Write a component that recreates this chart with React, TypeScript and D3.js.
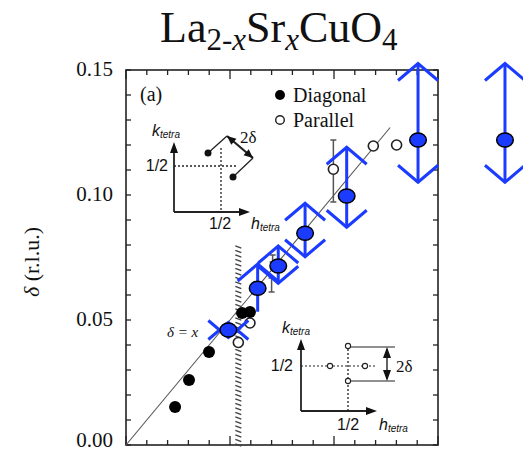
import React from "react";
import * as d3 from "d3";

// Incommensurability delta versus hole concentration x in La2-xSrxCuO4
const diagX = [0.0236, 0.0303, 0.0399, 0.0492, 0.0558, 0.0596, 0.0633, 0.0732, 0.0861, 0.1061];
const diagD = [0.0152, 0.026, 0.0372, 0.046, 0.0528, 0.0532, 0.0627, 0.0716, 0.0847, 0.0996];

const parX = [0.0540, 0.0596, 0.0997, 0.1189, 0.1301];
const parD = [0.0410, 0.0488, 0.1103, 0.1196, 0.12];

// vertical error bars (x, low, high) on the measured points
const errX = [0.0997, 0.07, 0.0705];
const errLo = [0.0972, 0.0612, 0.0732];
const errHi = [0.122, 0.0668, 0.076];

// overlay: estimates with their uncertainty ranges
const blueX = [0.0492, 0.0633, 0.0732, 0.0861, 0.1061, 0.1404, 0.1822];
const blueD = [0.046, 0.0627, 0.0716, 0.0847, 0.0996, 0.122, 0.122];
const blueUp = [0.003, 0.0097, 0.008, 0.012, 0.0195, 0.0306, 0.0306];
const blueDown = [0.003, 0.0094, 0.0069, 0.0094, 0.0125, 0.0169, 0.0169];
const blueHeadDown = [true, false, true, true, true, true, true];

const yTicks = [0, 0.05, 0.1, 0.15];
const yTickLabels = ["0.00", "0.05", "0.10", "0.15"];

const BLUE = "#1b3cff";
const SERIF = "'Liberation Serif', 'Times New Roman', serif";
const SANS = "'Liberation Sans', Arial, sans-serif";

export default function App() {
  const W = 523;
  const H = 452;
  const x = d3.scaleLinear().domain([0, 0.15]).range([126, 438]);
  const y = d3.scaleLinear().domain([0, 0.15]).range([445, 70]);

  const minor = d3.range(0, 0.1501, 0.01);
  const isMajor = (v: number) => Math.abs(v / 0.05 - Math.round(v / 0.05)) < 1e-6;

  const hatchYs = d3.range(0, 0.0801, 0.0018);
  const hatchX = x(0.054);

  const arrowHead = (tx: number, ty: number, dir: "up" | "down" | "right", len = 11, half = 4) => {
    if (dir === "up") return `M${tx},${ty}L${tx - half},${ty + len}L${tx + half},${ty + len}Z`;
    if (dir === "down") return `M${tx},${ty}L${tx - half},${ty - len}L${tx + half},${ty - len}Z`;
    return `M${tx},${ty}L${tx - len},${ty - half}L${tx - len},${ty + half}Z`;
  };

  // double arrow between two points with heads at both ends
  const dblArrow = (x1: number, y1: number, x2: number, y2: number, len = 10, half = 4) => {
    const a = Math.atan2(y2 - y1, x2 - x1);
    const head = (tx: number, ty: number, ang: number) => {
      const bx = tx - len * Math.cos(ang);
      const by = ty - len * Math.sin(ang);
      const px = -Math.sin(ang) * half;
      const py = Math.cos(ang) * half;
      return `M${tx},${ty}L${bx + px},${by + py}L${bx - px},${by - py}Z`;
    };
    return head(x2, y2, a) + head(x1, y1, a + Math.PI);
  };

  const armDx = 20;
  const armDy = 17;

  return (
    <svg width={W} height={H} style={{ position: "absolute", left: 0, top: 0, background: "#fff" }}>
      {/* title */}
      <text x={160} y={42} fontFamily={SERIF} fontSize={44} fill="#111">
        La
        <tspan fontSize={31} dy={8}>2-</tspan>
        <tspan fontSize={31} fontStyle="italic">x</tspan>
        <tspan dy={-8}>Sr</tspan>
        <tspan fontSize={31} fontStyle="italic" dy={8}>x</tspan>
        <tspan dy={-8}>CuO</tspan>
        <tspan fontSize={31} dy={8}>4</tspan>
      </text>

      {/* y-axis title */}
      <text
        transform="translate(39,262) rotate(-90)"
        textAnchor="middle"
        fontFamily={SERIF}
        fontSize={22}
        fill="#111"
      >
        <tspan fontStyle="italic">δ</tspan> (r.l.u.)
      </text>

      {/* y tick labels */}
      {yTicks.map((t, i) => (
        <text key={t} x={113} y={y(t) + (t === 0 ? 2 : 6)} textAnchor="end" fontFamily={SERIF} fontSize={21} fill="#111">
          {yTickLabels[i]}
        </text>
      ))}

      {/* frame */}
      <rect x={x(0)} y={y(0.15)} width={x(0.15) - x(0)} height={y(0) - y(0.15)} fill="none" stroke="#222" strokeWidth={1.6} />

      {/* ticks on all four sides, pointing inward */}
      {minor.map((v) => {
        const L = isMajor(v) ? 9 : 5;
        return (
          <g key={"t" + v} stroke="#222" strokeWidth={1.3}>
            <line x1={x(v)} x2={x(v)} y1={y(0)} y2={y(0) - L} />
            <line x1={x(v)} x2={x(v)} y1={y(0.15)} y2={y(0.15) + L} />
            <line x1={x(0)} x2={x(0) + 5} y1={y(v)} y2={y(v)} />
            <line x1={x(0.15)} x2={x(0.15) - 5} y1={y(v)} y2={y(v)} />
          </g>
        );
      })}

      {/* hatched boundary */}
      {hatchYs.map((v) => (
        <line key={"h" + v} x1={hatchX - 3} y1={y(v) - 1.2} x2={hatchX + 3} y2={y(v) + 1.2} stroke="#444" strokeWidth={1.4} />
      ))}

      {/* delta = x reference line */}
      <line x1={x(0)} y1={y(0)} x2={x(0.127)} y2={y(0.127)} stroke="#555" strokeWidth={1.1} />
      <text x={167} y={337} fontFamily={SERIF} fontSize={15} fontStyle="italic" fill="#111">
        δ = x
      </text>

      {/* error bars */}
      {errX.map((v, i) => (
        <g key={"e" + i} stroke="#555" strokeWidth={1.5}>
          <line x1={x(v)} x2={x(v)} y1={y(errLo[i])} y2={y(errHi[i])} />
          <line x1={x(v) - 3} x2={x(v) + 3} y1={y(errLo[i])} y2={y(errLo[i])} />
          <line x1={x(v) - 3} x2={x(v) + 3} y1={y(errHi[i])} y2={y(errHi[i])} />
        </g>
      ))}

      {/* parallel (open) */}
      {parX.map((v, i) => (
        <circle key={"p" + i} cx={x(v)} cy={y(parD[i])} r={5} fill="#fff" stroke="#222" strokeWidth={1.6} />
      ))}
      {/* diagonal (filled) */}
      {diagX.map((v, i) => (
        <circle key={"d" + i} cx={x(v)} cy={y(diagD[i])} r={6} fill="#000" />
      ))}

      {/* legend */}
      <text x={140} y={101} fontFamily={SERIF} fontSize={20} fill="#111">(a)</text>
      <circle cx={280} cy={95} r={5} fill="#000" />
      <text x={293} y={102} fontFamily={SERIF} fontSize={20} fill="#111">Diagonal</text>
      <circle cx={280} cy={120} r={4.3} fill="#fff" stroke="#222" strokeWidth={1.4} />
      <text x={293} y={127} fontFamily={SERIF} fontSize={20} fill="#111">Parallel</text>

      {/* inset: diagonal peaks */}
      <g stroke="#222" fill="none">
        <line x1={174} y1={212} x2={174} y2={150} strokeWidth={1.8} />
        <line x1={174} y1={212} x2={240} y2={212} strokeWidth={1.8} />
        <line x1={221} y1={148} x2={221} y2={212} strokeWidth={1.3} strokeDasharray="2,2" />
        <line x1={174} y1={166} x2={238} y2={166} strokeWidth={1.3} strokeDasharray="2,2" />
        <line x1={208} y1={153} x2={227} y2={136} strokeWidth={1.3} />
        <line x1={253} y1={158} x2={233} y2={177} strokeWidth={1.3} />
        <line x1={227} y1={136} x2={253} y2={158} strokeWidth={2.2} />
      </g>
      <path d={arrowHead(174, 142, "up")} fill="#111" />
      <path d={arrowHead(250, 212, "right")} fill="#111" />
      <path d={dblArrow(227, 136, 253, 158, 9, 4)} fill="#111" />
      <circle cx={208} cy={153} r={3.5} fill="#111" />
      <circle cx={233} cy={177} r={3.5} fill="#111" />
      <text x={240} y={143} fontFamily={SERIF} fontSize={17} fill="#111">2δ</text>
      <text x={152} y={136} fontFamily={SANS} fontSize={16} fontStyle="italic" fill="#111">
        k<tspan fontSize={10} dy={2}>tetra</tspan>
      </text>
      <text x={168} y={171} textAnchor="end" fontFamily={SANS} fontSize={16} fill="#111">1/2</text>
      <text x={220} y={229} textAnchor="middle" fontFamily={SANS} fontSize={16} fill="#111">1/2</text>
      <text x={251} y={229} fontFamily={SANS} fontSize={16} fontStyle="italic" fill="#111">
        h<tspan fontSize={10} dy={2}>tetra</tspan>
      </text>

      {/* inset: parallel peaks */}
      <g stroke="#222" fill="none">
        <line x1={301} y1={411} x2={301} y2={347} strokeWidth={1.8} />
        <line x1={301} y1={411} x2={367} y2={411} strokeWidth={1.8} />
        <line x1={301} y1={366} x2={375} y2={366} strokeWidth={1.2} strokeDasharray="2,2" />
        <line x1={348} y1={345} x2={348} y2={411} strokeWidth={1.3} strokeDasharray="2,2" />
        <line x1={348} y1={347} x2={395} y2={347} strokeWidth={1.2} />
        <line x1={348} y1={381} x2={395} y2={381} strokeWidth={1.2} />
        <line x1={387} y1={349} x2={387} y2={379} strokeWidth={1.4} />
      </g>
      <path d={arrowHead(301, 339, "up")} fill="#111" />
      <path d={arrowHead(377, 411, "right")} fill="#111" />
      <path d={dblArrow(387, 381, 387, 347, 11, 4)} fill="#111" />
      {[
        [330, 366],
        [365, 366],
        [348, 346],
        [348, 381],
      ].map(([cx, cy], i) => (
        <circle key={"o" + i} cx={cx} cy={cy} r={2.6} fill="#fff" stroke="#222" strokeWidth={1.1} />
      ))}
      <text x={396} y={372} fontFamily={SERIF} fontSize={17} fill="#111">2δ</text>
      <text x={282} y={333} fontFamily={SANS} fontSize={16} fontStyle="italic" fill="#111">
        k<tspan fontSize={10} dy={2}>tetra</tspan>
      </text>
      <text x={293} y={371} textAnchor="end" fontFamily={SANS} fontSize={16} fill="#111">1/2</text>
      <text x={348} y={430} textAnchor="middle" fontFamily={SANS} fontSize={16} fill="#111">1/2</text>
      <text x={379} y={430} fontFamily={SANS} fontSize={16} fontStyle="italic" fill="#111">
        h<tspan fontSize={10} dy={2}>tetra</tspan>
      </text>

      {/* overlay estimates with double-arrow ranges */}
      {blueX.map((v, i) => {
        const cx = x(v);
        const yt = y(blueD[i] + blueUp[i]);
        const yb = y(blueD[i] - blueDown[i]);
        return (
          <g key={"b" + i} stroke={BLUE} strokeWidth={3} fill="none">
            <line x1={cx} x2={cx} y1={yt} y2={yb} />
            <path d={`M${cx - armDx},${yt + armDy}L${cx},${yt}L${cx + armDx},${yt + armDy}`} />
            {blueHeadDown[i] && <path d={`M${cx - armDx},${yb - armDy}L${cx},${yb}L${cx + armDx},${yb - armDy}`} />}
          </g>
        );
      })}
      {blueX.map((v, i) => (
        <ellipse key={"bc" + i} cx={x(v)} cy={y(blueD[i])} rx={8.3} ry={7} fill={BLUE} stroke="#000" strokeWidth={1.5} />
      ))}
    </svg>
  );
}
